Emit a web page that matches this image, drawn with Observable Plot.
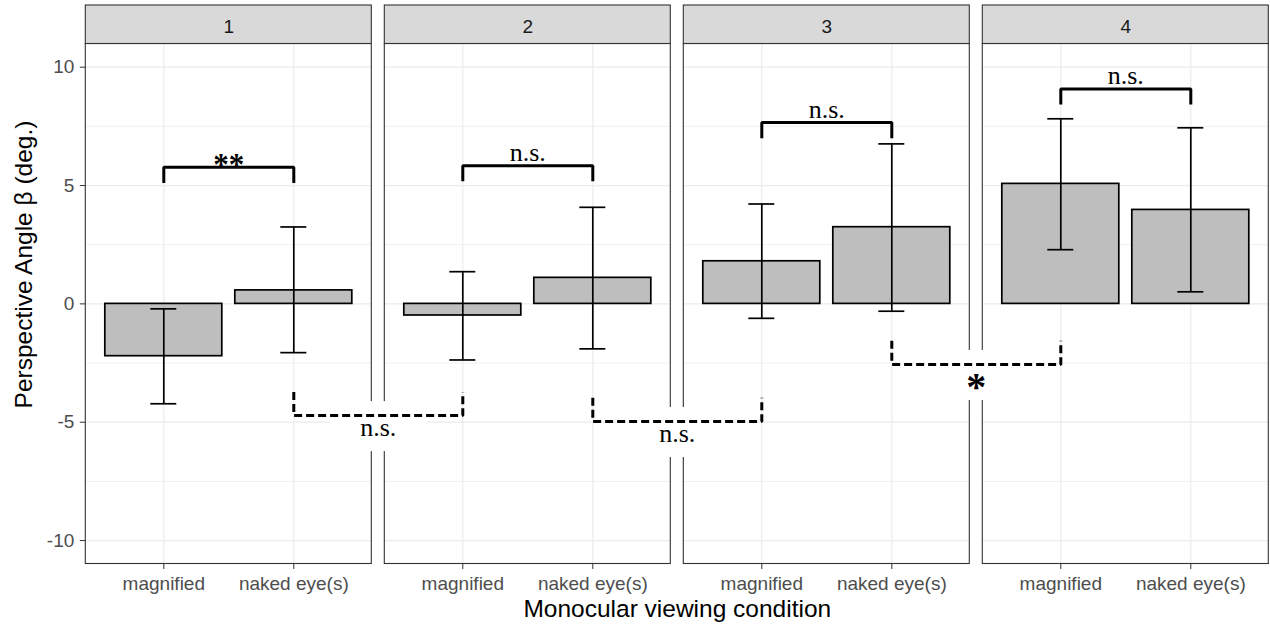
<!DOCTYPE html>
<html>
<head>
<meta charset="utf-8">
<script src="https://cdn.jsdelivr.net/npm/d3@7"></script>
<script src="https://cdn.jsdelivr.net/npm/@observablehq/plot@0.6"></script>
<style>
  html, body { margin: 0; padding: 0; background: #fff; }
  #chart svg { display: block; }
</style>
</head>
<body>
<div id="chart"></div>
<script>
// ---------- data ----------
const panels = [1, 2, 3, 4];
const conditions = ["magnified", "naked eye(s)"];
const magnifiedMean = [-2.21, -0.49, 1.80, 5.07];
const magnifiedHigh = [-0.21, 1.36, 4.22, 7.82];
const magnifiedLow = [-4.22, -2.37, -0.61, 2.29];
const nakedMean = [0.57, 1.10, 3.24, 3.97];
const nakedHigh = [3.25, 4.08, 6.76, 7.44];
const nakedLow = [-2.06, -1.90, -0.31, 0.51];
const withinBracketY = [5.77, 5.84, 7.66, 9.08];
const withinLabels = ["**", "n.s.", "n.s.", "n.s."];
const crossBracketY = [-4.72, -4.97, -2.56];
const crossLabels = ["n.s.", "n.s.", "*"];
const yTicks = [-10, -5, 0, 5, 10];
const yMinorTicks = [-7.5, -2.5, 2.5, 7.5];
const yTitle = "Perspective Angle \u03B2 (deg.)";
const xTitle = "Monocular viewing condition";

// ---------- layout helpers (facet-like positions on one linear x scale) ----------
const STEP = 2.3, EXPAND = 0.6, BAR_HALF = 0.45, WHISKER_HALF = 0.1;
const pos = (p, c) => (p - 1) * STEP + 1 + c;
const yDomain = [-10.99, 10.98];

const panelData = panels.map(p => ({
  panel: p, left: pos(p, 0) - EXPAND, right: pos(p, 1) + EXPAND, mid: (pos(p, 0) + pos(p, 1)) / 2
}));

const bars = panels.flatMap((p, i) => [
  {panel: p, cond: conditions[0], x: pos(p, 0), mean: magnifiedMean[i], low: magnifiedLow[i], high: magnifiedHigh[i]},
  {panel: p, cond: conditions[1], x: pos(p, 1), mean: nakedMean[i], low: nakedLow[i], high: nakedHigh[i]}
]);
const tickLabel = new Map(bars.map(d => [d.x, d.cond]));
const whiskers = bars.flatMap(d => [{x: d.x, y: d.low}, {x: d.x, y: d.high}]);

const gridMajor = panelData.flatMap(p => yTicks.map(y => ({y, x1: p.left, x2: p.right})));
const gridMinor = panelData.flatMap(p => yMinorTicks.map(y => ({y, x1: p.left, x2: p.right})));

const WITHIN_TICK = 0.66, CROSS_TICK = 1.0;
const within = panels.map((p, i) => ({id: "w" + p, a: pos(p, 0), b: pos(p, 1), y: withinBracketY[i], label: withinLabels[i], mid: (pos(p, 0) + pos(p, 1)) / 2}));
const withinPts = within.flatMap(d => [
  {id: d.id, x: d.a, y: d.y - WITHIN_TICK}, {id: d.id, x: d.a, y: d.y},
  {id: d.id, x: d.b, y: d.y}, {id: d.id, x: d.b, y: d.y - WITHIN_TICK}
]);
const cross = crossBracketY.map((y, k) => ({id: "c" + k, a: pos(panels[k], 1), b: pos(panels[k + 1], 0), y, label: crossLabels[k], mid: (pos(panels[k], 1) + pos(panels[k + 1], 0)) / 2}));
const crossPts = cross.flatMap(d => [
  {id: d.id, x: d.a, y: d.y + CROSS_TICK}, {id: d.id, x: d.a, y: d.y},
  {id: d.id, x: d.b, y: d.y}, {id: d.id, x: d.b, y: d.y + CROSS_TICK}
]);

const serif = "Liberation Serif, Times New Roman, serif";

const chart = Plot.plot({
  width: 1270,
  height: 624,
  marginLeft: 85.3,
  marginRight: 1.7,
  marginTop: 43.5,
  marginBottom: 60.5,
  x: {domain: [pos(1, 0) - EXPAND, pos(4, 1) + EXPAND]},
  y: {domain: yDomain},
  style: {fontFamily: "Liberation Sans, Arial, sans-serif", background: "white"},
  marks: [
    // grid
    Plot.ruleY(gridMinor, {y: "y", x1: "x1", x2: "x2", stroke: "#F0F0F0", strokeWidth: 1}),
    Plot.ruleY(gridMajor, {y: "y", x1: "x1", x2: "x2", stroke: "#EBEBEB", strokeWidth: 1.2}),
    Plot.ruleX(bars, {x: "x", stroke: "#EBEBEB", strokeWidth: 1.2}),
    // panel borders
    Plot.rect(panelData, {x1: "left", x2: "right", y1: () => yDomain[0], y2: () => yDomain[1], fill: "none", stroke: "#333333", strokeWidth: 1.1}),
    // strips
    Plot.rect(panelData, {x1: "left", x2: "right", y1: () => yDomain[1], y2: () => yDomain[1], insetTop: -38.5, fill: "#D9D9D9", stroke: "#333333", strokeWidth: 1.1}),
    Plot.text(panelData, {x: "mid", y: () => yDomain[1], text: d => String(d.panel), dy: -17.5, fontSize: 19, fill: "#1A1A1A"}),
    // bars and error bars
    Plot.rect(bars, {x1: d => d.x - BAR_HALF, x2: d => d.x + BAR_HALF, y1: () => 0, y2: "mean", fill: "#BEBEBE", stroke: "black", strokeWidth: 1.7}),
    Plot.ruleX(bars, {x: "x", y1: "low", y2: "high", stroke: "black", strokeWidth: 1.7}),
    Plot.ruleY(whiskers, {y: "y", x1: d => d.x - WHISKER_HALF, x2: d => d.x + WHISKER_HALF, stroke: "black", strokeWidth: 1.7}),
    // within-panel brackets
    Plot.line(withinPts, {x: "x", y: "y", z: "id", stroke: "black", strokeWidth: 3, strokeLinejoin: "miter", strokeLinecap: "butt"}),
    Plot.text(within.filter(d => d.label !== "**"), {x: "mid", y: "y", text: "label", dy: -13.3, fontSize: 26, fontFamily: serif, fill: "black"}),
    Plot.text(within.filter(d => d.label === "**"), {x: "mid", y: "y", text: "label", dy: -2.5, fontSize: 31, fontWeight: "bold", fontFamily: serif, fill: "black"}),
    // cross-panel brackets with label boxes
    Plot.rect(cross, {x1: "mid", x2: "mid", y1: "y", y2: "y", insetLeft: -48, insetRight: -48, insetTop: -14, insetBottom: -36, fill: "white"}),
    Plot.line(crossPts, {x: "x", y: "y", z: "id", stroke: "black", strokeWidth: 3, strokeDasharray: "8,4", strokeLinejoin: "miter", strokeLinecap: "butt"}),
    Plot.text(cross.filter(d => d.label !== "*"), {x: "mid", y: "y", text: "label", dy: 11.7, fontSize: 26, fontFamily: serif, fill: "black"}),
    Plot.text(cross.filter(d => d.label === "*"), {x: "mid", y: "y", text: "label", dy: 23, fontSize: 40, fontWeight: "bold", fontFamily: serif, fill: "black"}),
    // axes
    Plot.axisY({ticks: yTicks, tickFormat: d => String(d), tickSize: 5.5, tickPadding: 6, fontSize: 19, fill: "#4D4D4D", stroke: "#333333", label: null}),
    Plot.axisX({ticks: bars.map(d => d.x), tickFormat: d => tickLabel.get(d), tickSize: 5.5, tickPadding: 7, fontSize: 19, fill: "#4D4D4D", stroke: "#333333", label: null}),
    // axis titles
    Plot.text([yTitle], {frameAnchor: "left", text: d => d, rotate: -90, textAnchor: "middle", lineAnchor: "middle", dx: -61.5, dy: -39.5, fontSize: 24.5, fill: "black"}),
    Plot.text([xTitle], {frameAnchor: "bottom", text: d => d, textAnchor: "middle", lineAnchor: "middle", dy: 45.5, fontSize: 24.5, fill: "black"})
  ]
});
document.getElementById("chart").appendChild(chart);
</script>
</body>
</html>
